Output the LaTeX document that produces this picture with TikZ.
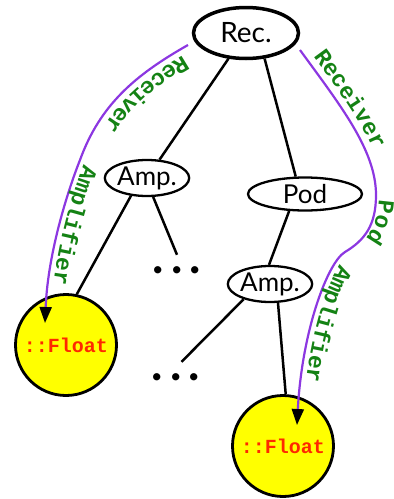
\documentclass[tikz,border=0pt]{standalone}
\usepackage{fontspec}
\setmainfont{Lato}
\newfontfamily\monof{Liberation Mono}
\usetikzlibrary{shapes.geometric,arrows.meta,decorations.text}
\definecolor{tgreen}{RGB}{20,130,20}
\definecolor{tpurple}{RGB}{140,55,225}
\definecolor{tred}{RGB}{255,40,0}
\definecolor{tyellow}{RGB}{255,255,0}
\begin{document}
\begin{tikzpicture}[x=1pt,y=-1pt,
  cls/.style={draw, ellipse, line width=2.3pt, inner sep=0pt, font=\fontsize{26}{26}\selectfont},
  fl/.style={draw, circle, fill=tyellow, line width=2.8pt, minimum size=101pt, inner sep=0pt, font=\monof\bfseries\fontsize{20}{20}\selectfont, text=tred},
  conn/.style={line width=2.5pt},
  dotsn/.style={inner sep=0pt, minimum height=30pt, font=\fontsize{48}{48}\selectfont\bfseries},
  nav/.style={tpurple, line width=2.2pt, -{Triangle[length=16pt,width=12pt,color=black]}},
  lbl/.style n args={3}{decorate, decoration={text along path, raise=#3, text align={left indent=#2}, text={|\monof\bfseries\fontsize{23}{23}\selectfont\color{tgreen}|#1}}}
]
\useasboundingbox (0,0) rectangle (394,499);
% nodes
\node[cls, line width=3.5pt, minimum width=105pt, minimum height=51pt, font=\fontsize{28}{28}\selectfont] (rec) at (246,33) {Rec.};
\node[cls, minimum width=82pt, minimum height=36pt] (amp1) at (147,178) {Amp.};
\node[cls, minimum width=114pt, minimum height=33pt] (pod) at (305,194) {Pod};
\node[cls, minimum width=83pt, minimum height=36pt] (amp2) at (270,284) {Amp.};
\node[fl] (float1) at (66,345) {::Float\hspace{14pt}};
\node[fl] (float2) at (283,446) {::Float\hspace{13pt}};
\node[dotsn] (dots1) at (177,270) {.\hspace{7pt}.\hspace{7pt}.};
\node[dotsn] (dots2) at (176,377) {.\hspace{7pt}.\hspace{7pt}.};
% tree edges
\draw[conn] (rec) -- (amp1);
\draw[conn] (rec.-54) -- (pod.118);
\draw[conn] (amp1.-132) -- (float1.78);
\draw[conn] (amp1.-72) -- (dots1.north);
\draw[conn] (pod.-133) -- (amp2.93);
\draw[conn] (amp2.-150) -- (dots2.70);
\draw[conn] (amp2.-67) -- (float2.87);
% navigation curves
\coordinate (l0) at (188,45);
\coordinate (l1) at (80,160);
\coordinate (l2) at (45,323);
\draw[nav] (l0) .. controls (135,75) and (100,105) .. (l1) .. controls (70,185) and (48,250) .. (l2);
\path[lbl={Receiver}{10pt}{7pt}] (l0) .. controls (135,75) and (100,105) .. (l1);
\path[lbl={Amplifier}{3pt}{5pt}] (l1) .. controls (70,185) and (48,250) .. (l2);
\coordinate (r0) at (300,50);
\coordinate (r1) at (376,195);
\coordinate (r2) at (345,252);
\coordinate (r3) at (297,425);
\draw[nav] (r0) .. controls (340,105) and (376,150) .. (r1) .. controls (376,225) and (365,240) .. (r2) .. controls (328,262) and (302,330) .. (r3);
\path[lbl={Receiver}{13pt}{7pt}] (r0) .. controls (340,105) and (376,150) .. (r1);
\path[lbl={Pod}{4pt}{3pt}] (r1) .. controls (376,225) and (365,240) .. (r2);
\path[lbl={Amplifier}{14pt}{5pt}] (r2) .. controls (328,262) and (302,330) .. (r3);
\end{tikzpicture}
\end{document}
